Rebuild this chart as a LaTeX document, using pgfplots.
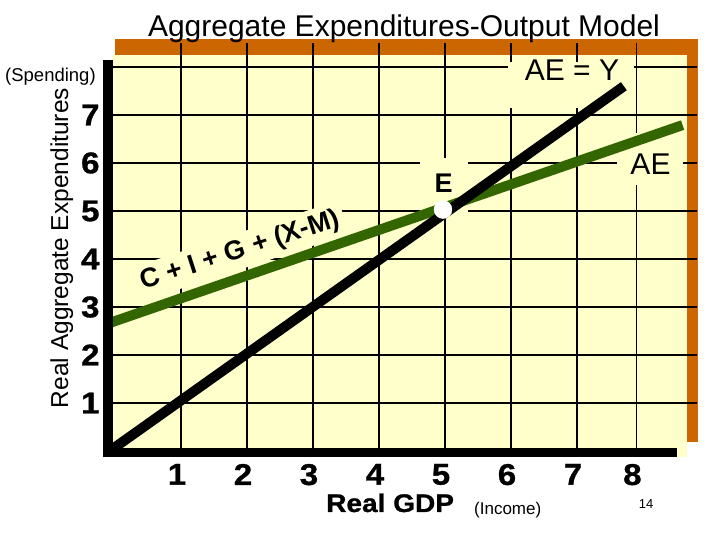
\documentclass[border=0pt]{standalone}
\usepackage{fontspec}
\setmainfont{Liberation Sans}
\newfontfamily\blackfont[FakeStretch=1.1,FakeBold=1]{Liberation Sans}
\usepackage{pgfplots}
\pgfplotsset{compat=1.18}
\definecolor{bgy}{HTML}{FFFFCC}
\definecolor{org}{HTML}{CC6600}
\definecolor{grn}{HTML}{336600}
\newcommand{\fs}[1]{\fontsize{#1}{#1}\selectfont}
\begin{document}
\begin{tikzpicture}
\useasboundingbox (0pt,0pt) rectangle (720pt,540pt);
\fill[white] (0pt,0pt) rectangle (720pt,540pt);
% frame shadow and paper
\fill[org] (115pt,98pt) rectangle (698pt,501pt);
\fill[bgy] (112pt,83pt) rectangle (687pt,485pt);
\begin{axis}[
  at={(111.7pt,84.2pt)}, anchor=south west,
  x=66pt, y=48pt,
  xmin=-0.05, xmax=8.82, ymin=-0.1, ymax=8.5,
  axis line style={draw=none},
  tick style={draw=none},
  xtick={1,2,3,4,5,6,7,7.9},
  xticklabels={1,2,3,4,5,6,7,8},
  ytick={1,2,3,4,5,6,7,8},
  yticklabels={1,2,3,4,5,6,7,{}},
  grid=major,
  major grid style={black, line width=1.2pt},
  tick label style={font=\fs{30}\blackfont\bfseries, inner sep=2pt},
  xticklabel style={yshift=-6pt, xshift=-4pt},
  yticklabel style={xshift=-10pt},
  clip=false,
]
% label boxes that interrupt the grid
\fill[bgy] (axis cs:5.955,7.146) rectangle (axis cs:7.87,8.104);
\fill[bgy] (axis cs:7.606,5.542) rectangle (axis cs:8.606,6.625);
\fill[bgy] (axis cs:4.62,4.92) rectangle (axis cs:5.35,6.1);
\node[rotate=18, fill=bgy, inner sep=5pt, font=\fs{27}\bfseries] at (axis cs:1.90,4.17) {C + I + G + (X-M)};
% series
\addplot[grn, line width=10pt] coordinates {(-0.075,2.67) (8.6,6.79)};
\addplot[black, line width=10pt] coordinates {(-0.08,0) (7.71,7.6)};
\addplot[only marks, mark=*, mark size=9pt, white] coordinates {(4.97,5.03)};
% heavy axes
\draw[black, line width=10pt] (axis cs:-0.106,-0.125) -- (axis cs:-0.106,8.146);
\draw[black, line width=9pt] (axis cs:-0.182,-0.031) -- (axis cs:8.515,-0.031);
\end{axis}
% texts
\node[anchor=base, font=\fs{30}] at (404pt,503pt) {Aggregate Expenditures-Output Model};
\node[anchor=base west, inner sep=0pt, font=\fs{18.5}] at (5pt,458pt) {(Spending)};
\node[anchor=base, rotate=90, inner sep=0pt, font=\fs{24.5}] at (68pt,292pt) {Real Aggregate Expenditures};
\node[anchor=base west, inner sep=0pt, font=\fs{25.5}\blackfont\bfseries] at (326pt,28pt) {Real GDP};
\node[anchor=base west, inner sep=0pt, font=\fs{17}] at (474pt,25pt) {(Income)};
\node[font=\fs{13}] at (646pt,36pt) {14};
\node[anchor=base, inner sep=0pt, font=\fs{30}] at (572pt,459pt) {AE = Y};
\node[anchor=base, inner sep=0pt, font=\fs{30}] at (650.5pt,365pt) {AE};
\node[anchor=base, inner sep=0pt, font=\fs{27}\bfseries] at (443.5pt,347pt) {E};
\end{tikzpicture}
\end{document}
